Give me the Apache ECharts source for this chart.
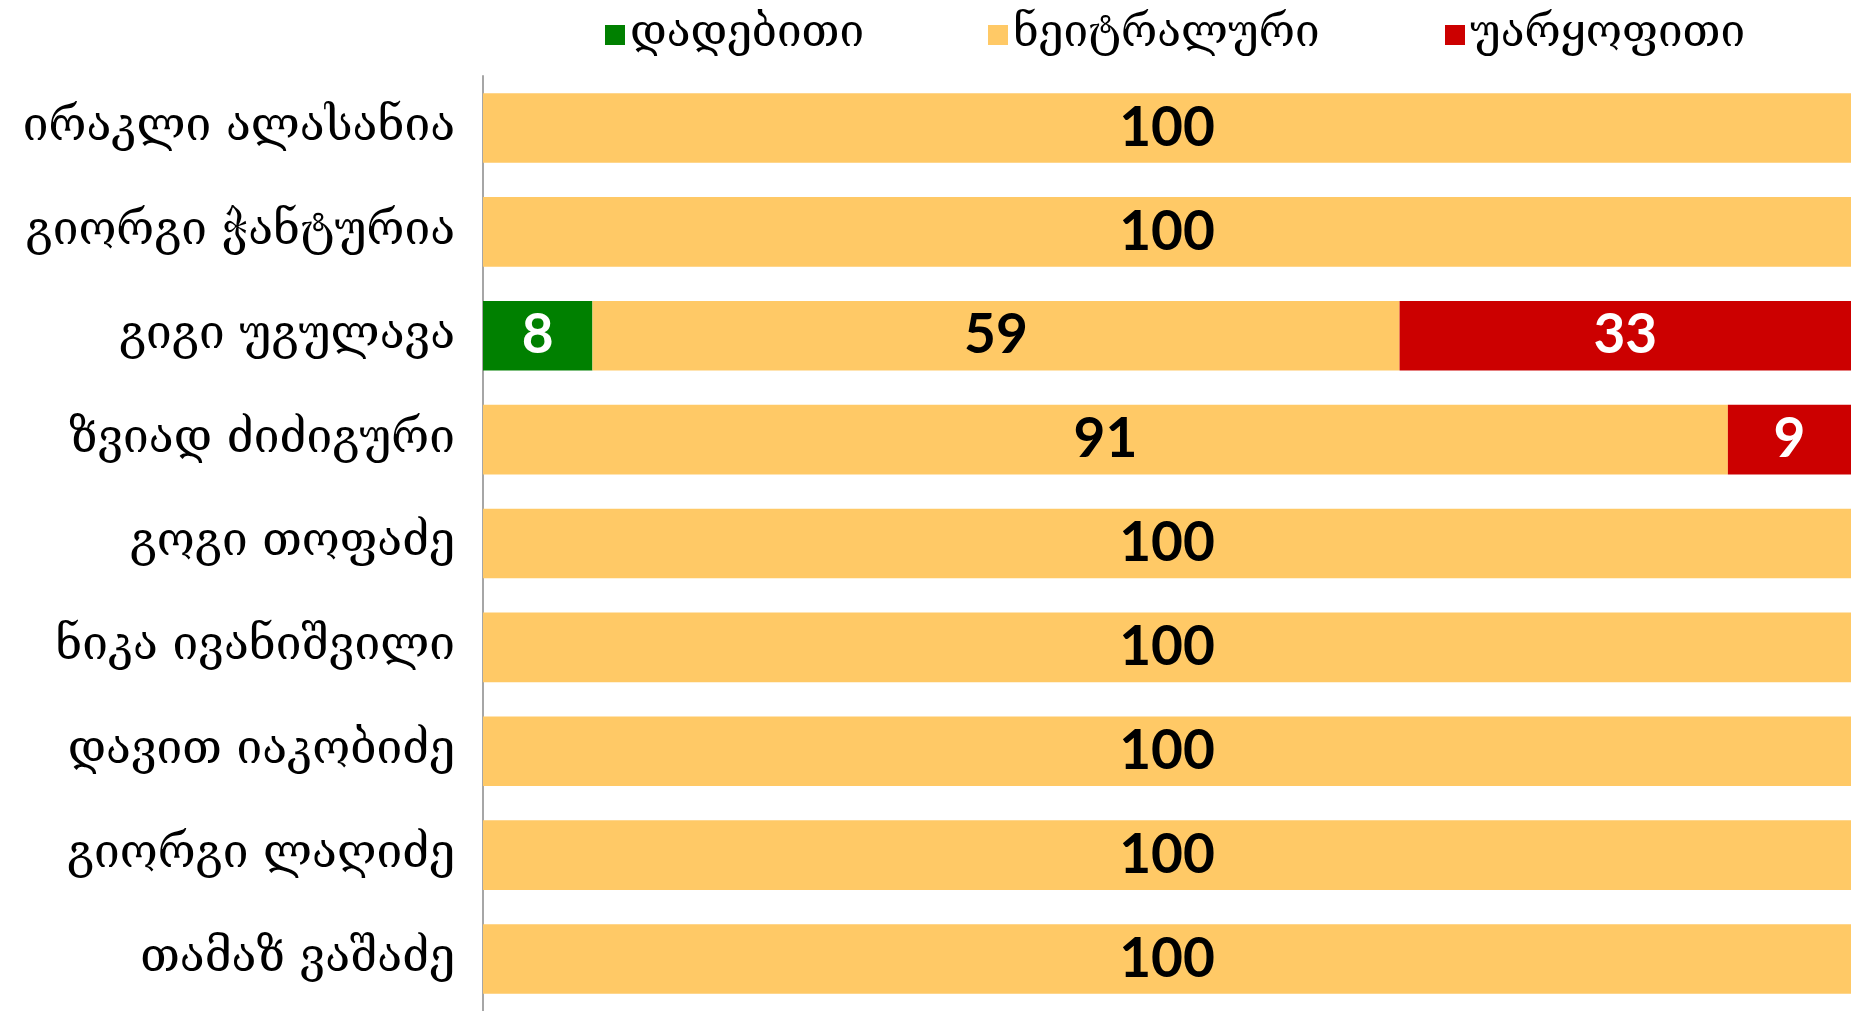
<!DOCTYPE html>
<html>
<head>
<meta charset="utf-8">
<script src="https://cdn.jsdelivr.net/npm/echarts@6/dist/echarts.min.js"></script>
<style>
  html, body { margin: 0; padding: 0; background: #fff; }
  #chart { width: 1851px; height: 1011px; }
</style>
</head>
<body>
<div id="chart"></div>
<script>
// კატეგორიები (ზემოდან ქვემოთ)
var categories = [
  'ირაკლი ალასანია',
  'გიორგი ჭანტურია',
  'გიგი უგულავა',
  'ზვიად ძიძიგური',
  'გოგი თოფაძე',
  'ნიკა ივანიშვილი',
  'დავით იაკობიძე',
  'გიორგი ლაღიძე',
  'თამაზ ვაშაძე'
]
var seriesNames = ['დადებითი', 'ნეიტრალური', 'უარყოფითი']
var positive = [0, 0, 8, 0, 0, 0, 0, 0, 0]
var neutral = [100, 100, 59, 91, 100, 100, 100, 100, 100]
var negative = [0, 0, 33, 9, 0, 0, 0, 0, 0]

var colors = ['#008000', '#FFC966', '#CC0000']
var labelColors = ['#ffffff', '#000000', '#ffffff']
var geoFont = '"DejaVu Serif", "DejaVu Sans", serif'

var chartDom = echarts.init(document.getElementById('chart'))

function makeSeries(idx, data) {
  return {
    name: seriesNames[idx],
    type: 'bar',
    stack: 'total',
    data: data,
    barCategoryGap: '33%',
    itemStyle: { color: colors[idx] },
    label: {
      show: true,
      position: 'inside',
      color: labelColors[idx],
      fontFamily: 'Lato, "Open Sans", sans-serif',
      fontWeight: 'bold',
      fontSize: 55,
      formatter: function(p) {
        // ნულოვანი მნიშვნელობები არ ჩანს
        return p.value > 0 ? p.value : ''
      }
    }
  }
}

function makeLegend(idx, left) {
  return {
    data: [seriesNames[idx]],
    left: left,
    top: 8,
    icon: 'rect',
    itemWidth: 20,
    itemHeight: 20,
    itemGap: 10,
    selectedMode: false,
    textStyle: {
      fontFamily: geoFont,
      fontSize: 44,
      color: '#000'
    }
  }
}

var option = {
  animation: false,
  backgroundColor: '#ffffff',
  legend: [
    makeLegend(0, 600),
    makeLegend(1, 983),
    makeLegend(2, 1440)
  ],
  grid: {
    left: 483,
    right: 0,
    top: 76,
    height: 938,
    containLabel: false
  },
  xAxis: {
    type: 'value',
    min: 0,
    max: 100,
    show: false
  },
  yAxis: {
    type: 'category',
    data: categories,
    inverse: true,
    axisLine: { show: true, lineStyle: { color: '#A6A6A6', width: 2 } },
    axisTick: { show: false },
    axisLabel: {
      margin: 28,
      padding: [6, 0, 0, 0],
      fontFamily: geoFont,
      fontSize: 46,
      color: '#000'
    }
  },
  series: [
    makeSeries(0, positive),
    makeSeries(1, neutral),
    makeSeries(2, negative)
  ]
}

chartDom.setOption(option)
</script>
</body>
</html>
